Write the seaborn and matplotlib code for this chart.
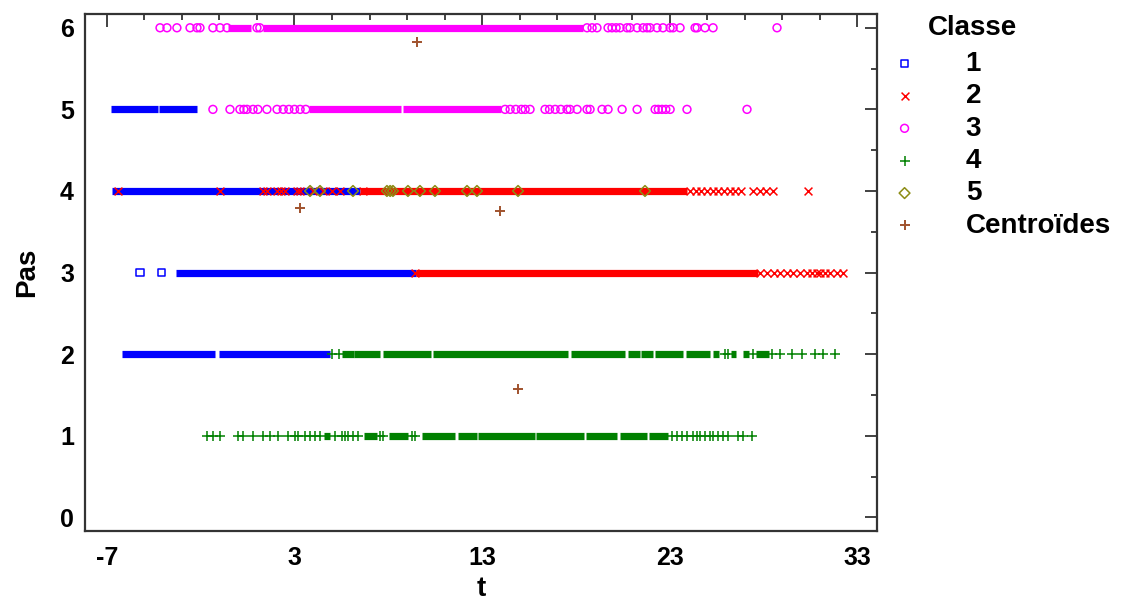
import matplotlib
matplotlib.use('Agg')
import matplotlib.pyplot as plt
from matplotlib.markers import MarkerStyle
from matplotlib.ticker import MultipleLocator, FixedLocator
import seaborn as sns

# dense stretches of points (pas, t start, t end) and the isolated points per class
c1_runs = [(5, -6.8, -4.3), (5, -4.2, -2.2), (4, -6.75, 6.5), (3, -3.3, 9.5),
           (2, -6.2, -1.25), (2, -1.0, 4.9)]
c1_pas = [3, 3]
c1_t = [-5.24, -4.07]

c2_runs = [(4, 6.5, 23.95), (3, 9.5, 27.7)]
c2_pas = [4] * 29 + [3] * 16
c2_t = [-6.41, -0.97, 1.32, 1.53, 2.07, 2.3, 2.49, 3.13, 3.29, 4.0, 4.5, 5.0, 5.43, 6.65,
        24.1, 24.4, 24.7, 25.0, 25.3, 25.6, 25.9, 26.2, 26.5, 26.8, 27.45, 27.8, 28.15, 28.5, 30.39,
        9.43, 27.83, 28.2, 28.55, 28.9, 29.27, 29.6, 29.96, 30.33, 30.6, 30.87, 31.03, 31.3,
        31.56, 31.93, 32.25]

c3_runs = [(6, -0.55, 0.7), (6, 1.3, 18.4), (5, 3.8, 8.7), (5, 8.8, 14.0)]
c3_pas = [6] * 34 + [5] * 40
c3_t = [-4.17, -3.8, -3.27, -2.57, -2.2, -2.04, -1.35, -0.97, -0.6, 1.0, 1.15, 18.6, 18.87,
        19.13, 19.72, 19.93, 20.15, 20.36, 20.73, 20.89, 21.27, 21.59, 21.8, 21.96, 22.33,
        22.65, 23.03, 23.19, 23.56, 24.36, 24.47, 24.89, 25.32, 28.73,
        -1.35, -0.44, 0.09, 0.3, 0.47, 0.79, 1.05, 1.53, 2.07, 2.4, 2.7, 3.0, 3.3, 3.6, 14.23,
        14.5, 14.8, 15.1, 15.3, 15.56, 16.36, 16.6, 16.9, 17.2, 17.53, 17.69, 18.07, 18.6,
        18.76, 19.4, 19.72, 20.47, 21.27, 22.23, 22.4, 22.6, 22.8, 23.03, 23.93, 27.13]

c4_runs = [(2, 5.55, 6.15), (2, 6.2, 7.55), (2, 7.7, 10.3), (2, 10.4, 17.6), (2, 17.75, 20.6),
           (2, 20.8, 21.4), (2, 21.5, 22.1), (2, 22.2, 23.7), (2, 23.9, 25.15), (2, 25.3, 25.65),
           (2, 26.3, 26.55), (2, 26.9, 27.25), (2, 27.6, 28.3),
           (1, 4.6, 4.9), (1, 6.7, 7.4), (1, 8.05, 9.05), (1, 9.8, 11.55), (1, 11.7, 12.75),
           (1, 12.8, 15.8), (1, 15.9, 18.45), (1, 18.55, 20.2), (1, 20.35, 21.8), (1, 21.9, 22.9)]
c4_pas = [2] * 12 + [1] * 42
c4_t = [5.0, 5.37, 25.96, 26.12, 27.45, 28.47, 28.89, 29.53, 30.07, 30.76, 31.19, 31.83,
        -1.67, -1.35, -0.97, -0.01, 0.25, 0.79, 1.32, 1.69, 2.12, 2.65, 3.03, 3.19, 3.56, 3.83,
        4.09, 4.36, 5.16, 5.53, 5.69, 5.85, 6.12, 6.39, 7.56, 7.72, 9.27, 9.43, 23.13, 23.4,
        23.67, 23.93, 24.25, 24.47, 24.63, 24.89, 25.16, 25.32, 25.59, 25.85, 26.12, 26.65,
        26.92, 27.4]

c5_pas = [4] * 13
c5_t = [3.83, 4.36, 6.12, 7.93, 8.1, 8.25, 9.05, 9.69, 10.49, 12.2, 12.73, 14.92, 21.69]

centroid_t = [9.53, 3.29, 13.96, 14.92]
centroid_pas = [5.82, 3.79, 3.75, 1.57]

sns.set_style('white')
plt.rcParams['font.family'] = ['Liberation Sans', 'DejaVu Sans']
plt.rcParams['font.weight'] = 'bold'
plt.rcParams['axes.unicode_minus'] = False
plt.rcParams['text.color'] = 'black'
plt.rcParams['axes.labelcolor'] = 'black'

fig = plt.figure(figsize=(11.26, 6.05), dpi=100)
ax = fig.add_axes([0.0755, 0.122, 0.7035, 0.855])

classes = [
    ('1', '#0000ff', MarkerStyle('s', fillstyle='none'), 26, c1_runs, c1_t, c1_pas),
    ('2', '#ff0000', 'x', 32, c2_runs, c2_t, c2_pas),
    ('3', '#ff00ff', MarkerStyle('o', fillstyle='none'), 32, c3_runs, c3_t, c3_pas),
    ('4', '#008000', '+', 44, c4_runs, c4_t, c4_pas),
    ('5', '#8c8c14', MarkerStyle('D', fillstyle='none'), 30, [], c5_t, c5_pas),
]

for i, (lab, col, mk, size, runs, t, pas) in enumerate(classes):
    if runs:
        ax.hlines([r[0] for r in runs], [r[1] for r in runs], [r[2] for r in runs],
                  colors=col, linewidth=5.2, capstyle='butt', zorder=2 + i)
    sns.scatterplot(x=t, y=pas, marker=mk, color=col, s=size, linewidth=1.1,
                    ax=ax, label=lab, zorder=2.5 + i)

sns.scatterplot(x=centroid_t, y=centroid_pas, marker='+', color='#a0522d', s=50,
                linewidth=1.4, ax=ax, label='Centroïdes', zorder=10)

ax.set_xlim(-8.17, 34.07)
ax.set_ylim(-0.17, 6.17)
ax.xaxis.set_major_locator(FixedLocator([-7, 3, 13, 23, 33]))
ax.xaxis.set_minor_locator(FixedLocator([-5, -3, -1, 1, 5, 7, 9, 11, 15, 17, 19, 21,
                                         25, 27, 29, 31]))
ax.yaxis.set_major_locator(MultipleLocator(1))
ax.yaxis.set_minor_locator(MultipleLocator(0.5))
ax.tick_params(which='both', direction='in', top=True, right=True, width=1.3,
               color='#333333', labelcolor='black', labelsize=18)
ax.tick_params(which='major', length=9)
ax.tick_params(which='minor', length=4)
ax.tick_params(axis='x', pad=11)
ax.tick_params(axis='y', pad=8)
for sp in ax.spines.values():
    sp.set_color('#333333')
    sp.set_linewidth(1.6)

ax.set_xlabel('t', fontsize=20, fontweight='bold', labelpad=4)
ax.set_ylabel('Pas', fontsize=20, fontweight='bold', labelpad=14)

leg = ax.legend(loc='upper left', bbox_to_anchor=(0.791, 0.916), bbox_transform=fig.transFigure,
                frameon=False, fontsize=20, handlelength=1, handletextpad=1.7,
                labelspacing=0.23, borderpad=0, borderaxespad=0)
fig.text(0.824, 0.954, 'Classe', fontsize=20, fontweight='bold', va='center', ha='left')

fig.savefig('out.png', dpi=100)
